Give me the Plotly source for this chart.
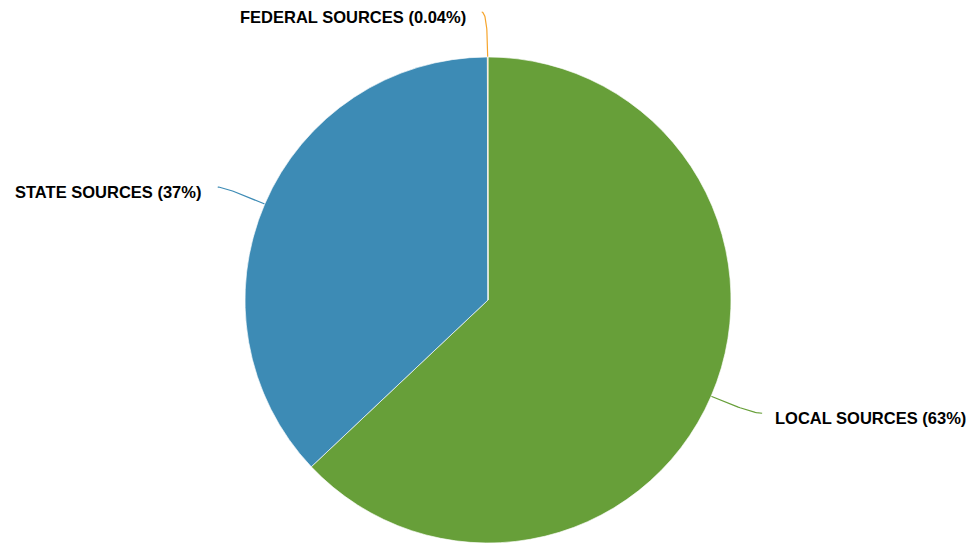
import math
import plotly.graph_objects as go

# Revenue shares by source (percent)
sources = ["LOCAL SOURCES", "STATE SOURCES", "FEDERAL SOURCES"]
shares = [62.96, 37.0, 0.04]
share_labels = ["63%", "37%", "0.04%"]
colors = ["#679F39", "#3D8BB5", "#F6A42B"]

W, H = 969, 544
CX, CY, R = 488, 300, 243

# Connector end offsets (px) from the slice edge, and label side
label_offsets = [(51, 17), (-47, -17), (-6, -45)]
label_gap = [11, -15, -14]

fig = go.Figure()

fig.add_trace(go.Pie(
    labels=sources,
    values=shares,
    sort=False,
    direction="clockwise",
    rotation=0,
    marker=dict(colors=colors, line=dict(color="rgba(255,255,255,0.8)", width=0.8)),
    textinfo="none",
    hoverinfo="label+percent",
    showlegend=False,
    domain=dict(x=[(CX - R) / W, (CX + R) / W], y=[(H - CY - R) / H, (H - CY + R) / H]),
))

total = sum(shares)
cum = 0.0
for name, val, txt, col, off, gap in zip(sources, shares, share_labels, colors, label_offsets, label_gap):
    mid = (cum + val / 2) / total * 2 * math.pi
    cum += val
    ux, uy = math.sin(mid), -math.cos(mid)
    x0, y0 = CX + R * ux, CY + R * uy
    x2, y2 = x0 + off[0], y0 + off[1]
    # control point: radial ray meets the horizontal through the end point
    if abs(uy) > 1e-6:
        t = (y2 - y0) / uy
        x1, y1 = x0 + ux * t, y2
    else:
        x1, y1 = (x0 + x2) / 2, (y0 + y2) / 2
    xs, ys = [], []
    for i in range(31):
        s = i / 30
        xs.append((1 - s) ** 2 * x0 + 2 * (1 - s) * s * x1 + s ** 2 * x2)
        ys.append((1 - s) ** 2 * y0 + 2 * (1 - s) * s * y1 + s ** 2 * y2)
    fig.add_trace(go.Scatter(x=xs, y=ys, mode="lines", line=dict(color=col, width=1.2),
                             hoverinfo="skip", showlegend=False))
    fig.add_annotation(
        x=x2 + gap, y=y2 + 5, xref="x", yref="y",
        text=f"<b>{name} ({txt})</b>", showarrow=False,
        xanchor="left" if gap > 0 else "right", yanchor="middle",
        font=dict(family="Liberation Sans, Arial, sans-serif", size=16.5, color="#000000"),
    )

fig.update_layout(
    width=W, height=H,
    margin=dict(l=0, r=0, t=0, b=0),
    paper_bgcolor="white", plot_bgcolor="rgba(0,0,0,0)",
    xaxis=dict(range=[0, W], visible=False, fixedrange=True, domain=[0, 1]),
    yaxis=dict(range=[H, 0], visible=False, fixedrange=True, domain=[0, 1]),
)

fig.write_html("out.html")
